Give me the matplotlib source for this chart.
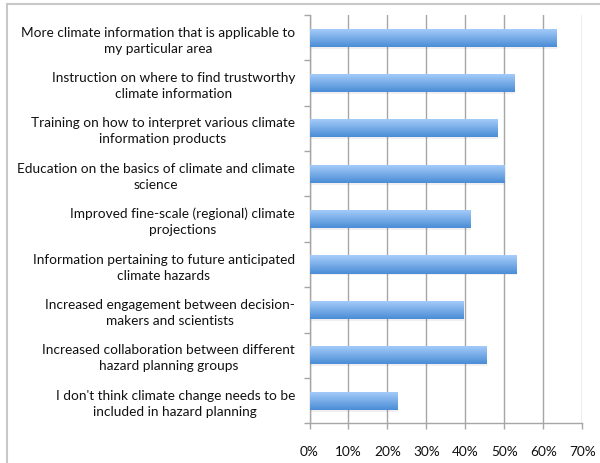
import numpy as np
import matplotlib
matplotlib.use("Agg")
import matplotlib.pyplot as plt
from matplotlib.patches import Rectangle
from matplotlib.ticker import FixedLocator, PercentFormatter

# Survey responses: share of respondents selecting each item
categories = [
    "More climate information that is applicable to\nmy particular area",
    "Instruction on where to find trustworthy\nclimate information",
    "Training on how to interpret various climate\ninformation products",
    "Education on the basics of climate and climate\nscience",
    "Improved fine-scale (regional) climate\nprojections",
    "Information pertaining to future anticipated\nclimate hazards",
    "Increased engagement between decision-\nmakers and scientists",
    "Increased collaboration between different\nhazard planning groups",
    "I don't think climate change needs to be\nincluded in hazard planning",
]
values = [63.2, 52.5, 48.0, 50.0, 41.2, 53.0, 39.3, 45.4, 22.4]
x_ticks = [0, 10, 20, 30, 40, 50, 60, 70]

plt.rcParams["font.family"] = ["Lato", "DejaVu Sans"]

fig = plt.figure(figsize=(6.0, 4.63), dpi=100)
W, H = 600, 463

# light outer frame
fig.patches.append(Rectangle((6.5 / W, -0.05), 1.2, 1 - 4 / H + 0.05,
                             transform=fig.transFigure, fill=False,
                             edgecolor="#c8c8c8", linewidth=1.5))

ax = fig.add_axes([309.5 / W, 1 - 423.3 / H, 272.8 / W, (423.3 - 15) / H])

n = len(categories)
y = np.arange(n)
bar_h = 0.40
bars = ax.barh(y, values, height=bar_h, color="#6fa3e6", edgecolor="none", zorder=3)

# vertical gradient fill for each bar
grad = np.linspace(0, 1, 64).reshape(-1, 1)
top_c = np.array([0.66, 0.81, 0.98])
bot_c = np.array([0.29, 0.55, 0.84])
img = top_c * (1 - grad[..., None]) + bot_c * grad[..., None]
img = img.reshape(64, 1, 3)
for b in bars:
    x0, y0 = b.get_x(), b.get_y()
    w, h = b.get_width(), b.get_height()
    # soft shadow
    ax.add_patch(Rectangle((x0, y0 + 0.04), w + 0.25, h, facecolor="#000000",
                           alpha=0.06, edgecolor="none", zorder=2))
    im = ax.imshow(img, extent=(x0, x0 + w, y0 + h, y0), aspect="auto",
                   zorder=4, interpolation="bilinear")
    im.set_clip_path(b)

ax.set_xlim(0, 70)
ax.set_ylim(n - 0.5, -0.5)

ax.xaxis.set_major_locator(FixedLocator(x_ticks))
ax.xaxis.set_major_formatter(PercentFormatter(decimals=0))
ax.grid(axis="x", color="#a6a6a6", linewidth=1.0, zorder=0)
ax.set_axisbelow(True)

ax.set_yticks(y)
ax.set_yticklabels(categories, fontsize=9.8, multialignment="center",
                   color="#111111", linespacing=1.4)
ax.set_yticks(np.arange(n + 1) - 0.5, minor=True)
ax.tick_params(axis="y", which="major", length=0, pad=10.5)
ax.tick_params(axis="y", which="minor", length=4, color="#a6a6a6", width=1.0)
ax.tick_params(axis="x", which="major", length=4, color="#a6a6a6", width=1.0,
               labelsize=9.8, pad=12, labelcolor="#111111")

for s in ["top", "right"]:
    ax.spines[s].set_visible(False)
for s in ["left", "bottom"]:
    ax.spines[s].set_color("#a6a6a6")
    ax.spines[s].set_linewidth(1.0)

fig.savefig("out.png", dpi=100)
